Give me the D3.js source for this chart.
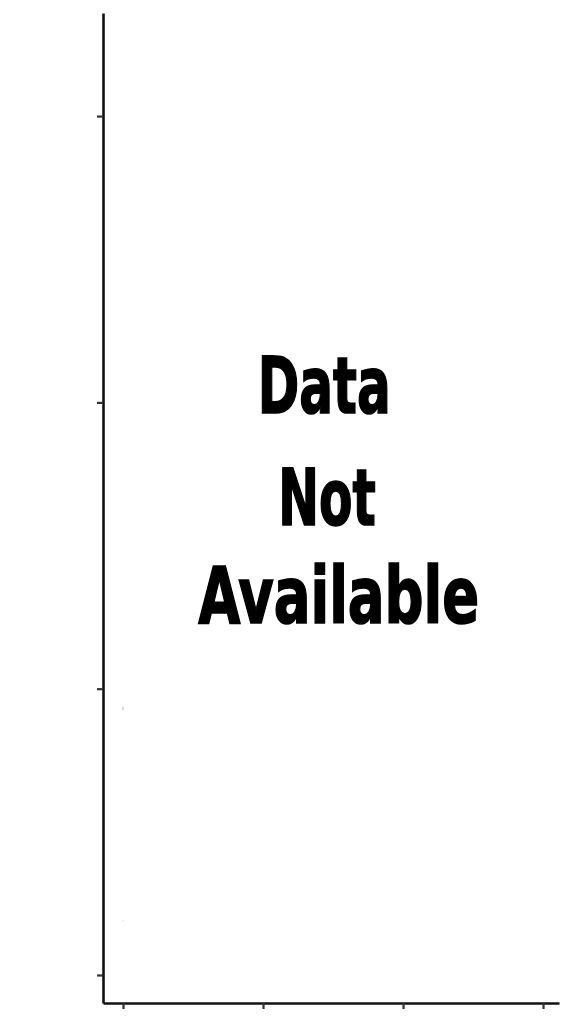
<!DOCTYPE html>
<html>
<head>
<meta charset="utf-8">
<script src="https://cdn.jsdelivr.net/npm/d3@7"></script>
<style>
  html, body { margin: 0; padding: 0; background: #ffffff; }
  svg { display: block; }
</style>
</head>
<body>
<svg id="chart" width="573" height="1024"></svg>
<script>
// ---- data ----
const xTickValues = [0, 1, 2, 3];
const yTickValues = [0, 1, 2, 3];
const pointX = [0, 0];
const pointY = [0.93, 0.19];
const messageLines = ["Data", "Not", "Available"];

// ---- layout ----
const svg = d3.select("#chart");

const x = d3.scaleLinear().domain([-0.143, 3.114]).range([103, 559]);
const y = d3.scaleLinear().domain([-0.0978, 3.36]).range([1003, 13]);

const yAxis = d3.axisLeft(y).tickValues(yTickValues).tickFormat("").tickSizeInner(6).tickSizeOuter(0);
const xAxis = d3.axisBottom(x).tickValues(xTickValues).tickFormat("").tickSizeInner(6).tickSizeOuter(0);

const gy = svg.append("g").attr("transform", `translate(${x.range()[0]},0)`).call(yAxis);
const gx = svg.append("g").attr("transform", `translate(0,${y.range()[0]})`).call(xAxis);

[gy, gx].forEach(g => {
  g.select(".domain").attr("stroke", "#111").attr("stroke-width", 2.6);
  g.selectAll(".tick line").attr("stroke", "#333").attr("stroke-width", 2.2);
});

// faint points
svg.append("g").selectAll("ellipse")
  .data(pointX.map((d, i) => ({ x: d, y: pointY[i] })))
  .join("ellipse")
  .attr("cx", d => x(d.x))
  .attr("cy", d => y(d.y))
  .attr("rx", 0.7)
  .attr("ry", (d, i) => i === 0 ? 2 : 1)
  .attr("fill", "#b8b0d8")
  .attr("opacity", (d, i) => i === 0 ? 0.8 : 0.35);

// message text
const lineSpec = [
  { cx: 324.2, base: 413.3, len: 133 },
  { cx: 327, base: 525, len: 97.5 },
  { cx: 338.7, base: 623.3, len: 281 }
];
svg.append("g").selectAll("text")
  .data(messageLines)
  .join("text")
  .attr("x", (d, i) => lineSpec[i].cx)
  .attr("y", (d, i) => lineSpec[i].base)
  .attr("text-anchor", "middle")
  .attr("textLength", (d, i) => lineSpec[i].len)
  .attr("lengthAdjust", "spacingAndGlyphs")
  .attr("font-family", "'DejaVu Sans Condensed', 'DejaVu Sans', sans-serif")
  .attr("font-weight", "bold")
  .attr("font-size", 79)
  .attr("fill", "#000")
  .attr("stroke", "#000")
  .attr("stroke-width", 1.6)
  .attr("stroke-linejoin", "miter")
  .text(d => d);
</script>
</body>
</html>
